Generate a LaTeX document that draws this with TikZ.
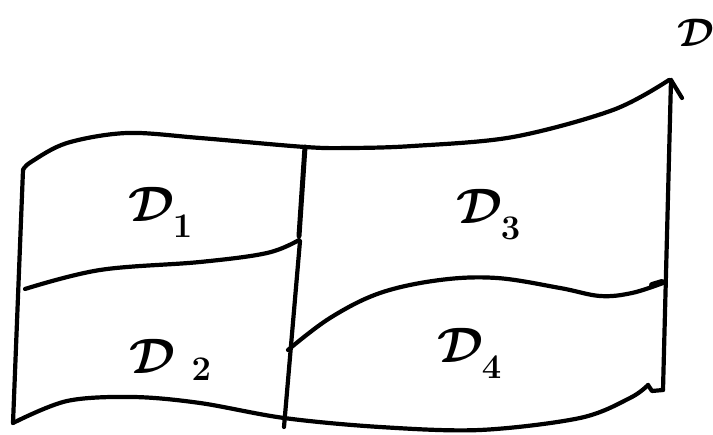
\documentclass[tikz,border=0pt]{standalone}
\usetikzlibrary{calc}
% subscript set a little lower than usual, as written by hand
\newcommand\lowsub[1]{_{\lower3.5pt\hbox{$\scriptstyle #1$}}}
\tikzset{
  pen/.style={line width=4.2pt, line cap=round, line join=round, black},
  lbl/.style={inner sep=0pt, font=\huge\boldmath, scale=2.4},
}
\begin{document}
\begin{tikzpicture}[x=1pt, y=-1pt]
\useasboundingbox (0,0) rectangle (713,435);

% corners of the sheet
\coordinate (tl) at (23,170);
\coordinate (bl) at (13,423);
\coordinate (tm) at (305,147);
\coordinate (mm) at (299,236);
\coordinate (bm) at (284,427);
\coordinate (tr) at (671,80);
\coordinate (br) at (663,390);

% outline
\draw[pen] plot[smooth, tension=0.55] coordinates
  {(23,170) (31,162) (67,143) (127,133) (200,138) (305,147) (350,148)
   (413,146) (513,137) (613,110) (669,80)};
\draw[pen] (tl) -- (bl);
\draw[pen] plot[smooth, tension=0.55] coordinates
  {(13,423) (67,401) (133,397) (200,403) (284,418) (380,427) (480,430)
   (580,418) (630,398) (648,385)};
\draw[pen] (648,385) -- (652,391) -- (br);
\draw[pen] (br) -- (tr);
\draw[pen] (tr) -- (682,98);

% middle divider, drawn in two strokes
\draw[pen, line width=5pt] (tm) -- (mm);
\draw[pen] (300,241) -- (bm);

% horizontal dividers
\draw[pen] plot[smooth, tension=0.6] coordinates
  {(25,289) (100,270) (200,262) (267,253) (299,240)};
\draw[pen] plot[smooth, tension=0.6] coordinates
  {(288,350) (330,318) (380,293) (440,280) (497,278) (560,288)
   (600,296) (632,293) (663,283)};
\draw[pen, line width=6pt] (652,285) -- (662,282);

% region labels
\node[lbl] (d1) at (161,212) {$\mathcal{D}\lowsub{1}$};
\node[lbl] (d3) at (489,214) {$\mathcal{D}\lowsub{3}$};
\node[lbl] (d2) at (171,360) {$\mathcal{D}\;{}_2$};
\node[lbl] (d4) at (470,353) {$\mathcal{D}\lowsub{4}$};
\node[lbl, scale=0.8] (d) at (696,33) {$\mathcal{D}$};
\end{tikzpicture}
\end{document}
